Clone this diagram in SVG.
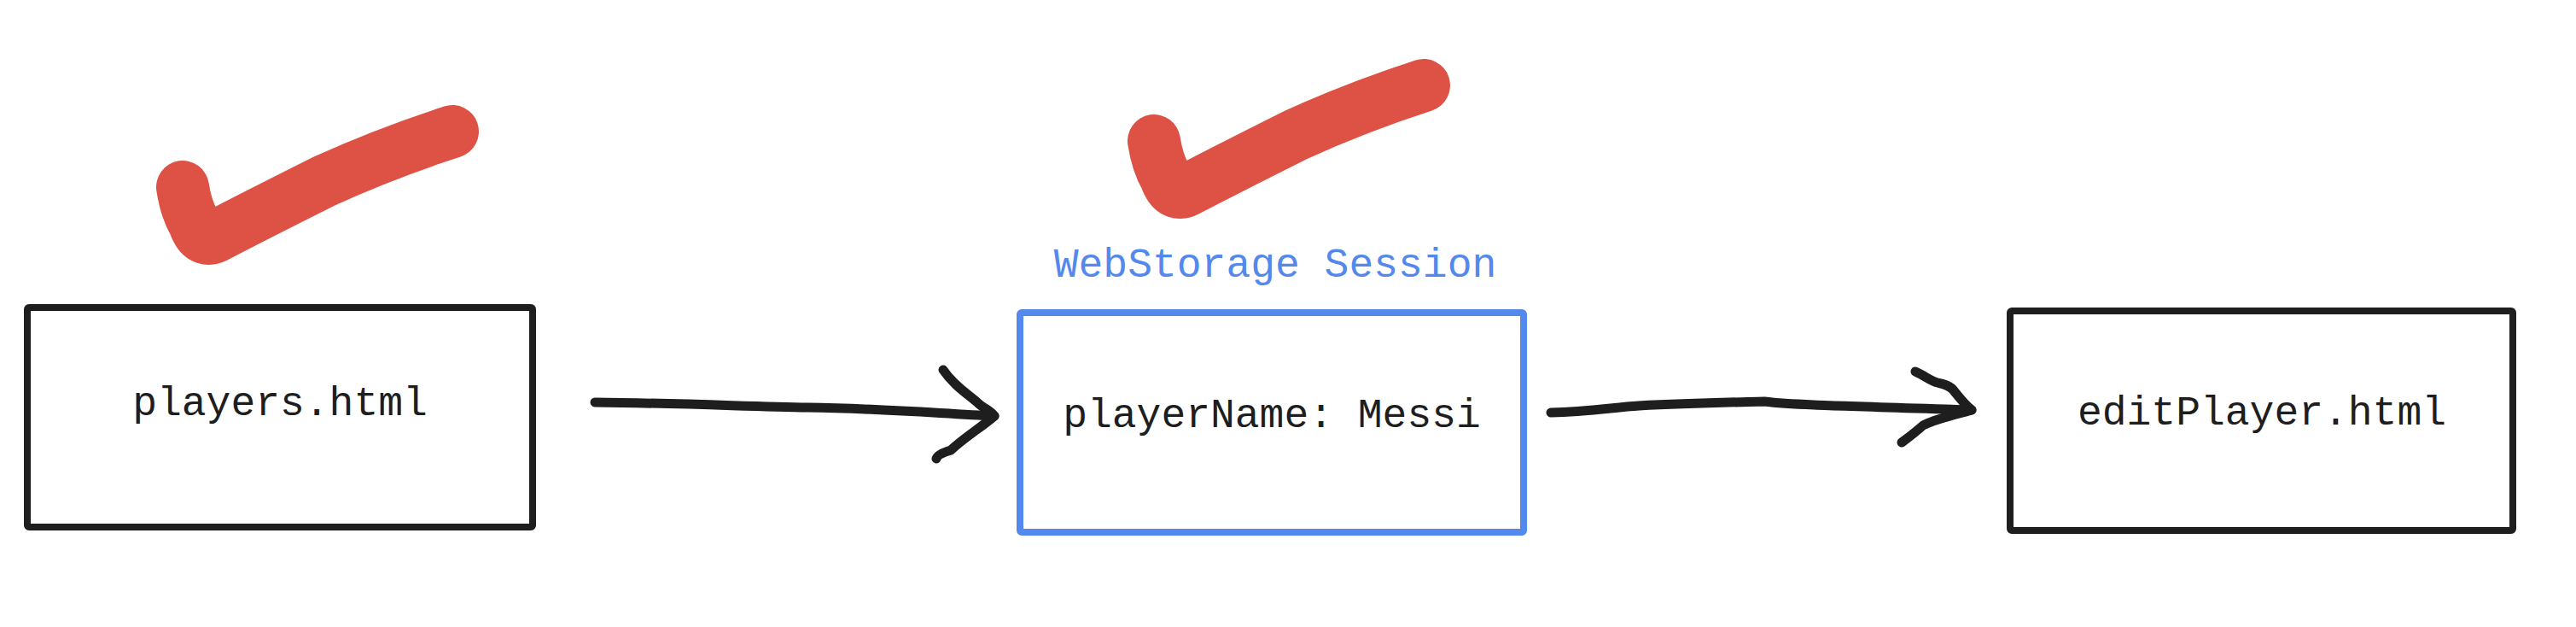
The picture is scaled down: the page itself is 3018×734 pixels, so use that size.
<svg xmlns="http://www.w3.org/2000/svg" xmlns:xlink="http://www.w3.org/1999/xlink" width="3018" height="734" viewBox="0 0 3018 734">
<style>
.box{fill:#ffffff;stroke:#1e1e1e;stroke-width:8}
.blue{fill:#ffffff;stroke:#5388ec;stroke-width:8}
.lbl{font-family:"Liberation Mono","DejaVu Sans Mono",monospace;font-size:48px;fill:#1e1e1e;text-anchor:middle}
.blbl{font-family:"Liberation Mono","DejaVu Sans Mono",monospace;font-size:48px;fill:#5388ec;text-anchor:middle}
.tick{fill:none;stroke:#de5245;stroke-width:62;stroke-linecap:round;stroke-linejoin:round}
.con{fill:none;stroke:#1e1e1e;stroke-width:11;stroke-linecap:round;stroke-linejoin:round}
</style>
<defs>
<path id="check" d="M214,219 Q218,245 228,262 Q236,285 252,277 Q300,252 380,212 Q450,180 530,154"/>
</defs>
<rect width="3018" height="734" fill="#ffffff"/>
<g id="check1"><use xlink:href="#check" href="#check" class="tick"/></g>
<g id="check2"><use xlink:href="#check" href="#check" class="tick" transform="translate(1138,-54)"/></g>
<g id="players">
<rect class="box" x="32" y="360" width="592" height="257" rx="2"/>
<text class="lbl" x="328" y="486">players.html</text>
</g>
<g id="session">
<text class="blbl" x="1494" y="324">WebStorage Session</text>
<rect class="blue" x="1195" y="366" width="590" height="257" rx="2"/>
<text class="lbl" x="1490" y="500">playerName: Messi</text>
</g>
<g id="editPlayer">
<rect class="box" x="2355" y="364" width="589" height="257" rx="2"/>
<text class="lbl" x="2650" y="497">editPlayer.html</text>
</g>
<g id="connectors">
<path class="con" d="M697,471 C800,472 880,476 946,477 C1030,478 1100,484 1165,487"/>
<path class="con" d="M1105,433 C1118,452 1135,462 1146,472 C1152,478 1160,480 1165,487 C1150,500 1130,512 1114,527 C1104,530 1098,533 1097,537"/>
<path class="con" d="M1817,483 C1860,482 1890,477 1920,475 C1980,472 2030,471 2067,470 C2100,474 2150,475 2310,480"/>
<path class="con" d="M2244,435 C2255,440 2262,446 2270,448 C2278,450 2283,451 2288,456 C2296,466 2302,474 2310,480 C2290,486 2268,490 2253,498 C2244,506 2236,512 2228,518"/>
</g>
</svg>
